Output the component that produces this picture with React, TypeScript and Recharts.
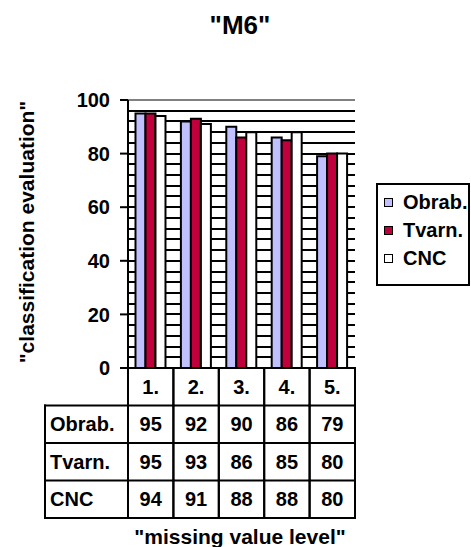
import React from 'react';
import { BarChart, Bar, XAxis, YAxis, CartesianGrid, Legend, ReferenceLine } from 'recharts';

// ---- data ----
const categories = ['1.', '2.', '3.', '4.', '5.'];
const obrabValues = [95, 92, 90, 86, 79];
const tvarnValues = [95, 93, 86, 85, 80];
const cncValues = [94, 91, 88, 88, 80];
const seriesLabels = ['Obrab.', 'Tvarn.', 'CNC'];
const yLabelTicks = [0, 20, 40, 60, 80, 100];
const gridTicks = [0, 4, 8, 12, 16, 20, 24, 28, 32, 36, 40, 44, 48, 52, 56, 60, 64, 68, 72, 76, 80, 84, 88, 92, 96, 100];

const title = '"M6"';
const yTitle = '"classification evaluation"';
const xTitle = '"missing value level"';

// ---- styles / layout ----
const COLORS = ['#C0C0FF', '#C0003C', '#FFFFFF'];
const FONT = "'Liberation Sans', Arial, Helvetica, sans-serif";

const W = 471;
const H = 547;
const MARGIN = { top: 100, right: 116, bottom: 29, left: 68 };
const YAXIS_W = 60;
const XAXIS_H = 150;
const AXIS_X = MARGIN.left + YAXIS_W;
const PLOT_W = W - AXIS_X - MARGIN.right;
const BAND = PLOT_W / categories.length;
const TABLE_TOP = H - MARGIN.bottom - XAXIS_H;
const ROW_H = 37.5;
const TABLE_LEFT = 45;

const data = categories.map((level, i) => ({
  level,
  obrab: obrabValues[i],
  tvarn: tvarnValues[i],
  cnc: cncValues[i],
}));
const seriesValues = [obrabValues, tvarnValues, cncValues];

const lineProps = { stroke: '#000', strokeWidth: 2, strokeLinecap: 'square' as const };
const textProps = { fontFamily: FONT, fontSize: 20, fontWeight: 700, fill: '#000' };

const YTick = (props: any) => {
  const { y, payload } = props;
  if (!yLabelTicks.includes(payload.value)) return <g />;
  return (
    <g>
      <line x1={AXIS_X - 8} x2={AXIS_X} y1={y} y2={y} stroke="#000" strokeWidth={2} />
      <text x={AXIS_X - 18} y={y} dy="0.355em" textAnchor="end" {...textProps}>
        {payload.value}
      </text>
    </g>
  );
};

const TableTick = (props: any) => {
  const { x, index, payload } = props;
  const left = x - BAND / 2;
  const right = x + BAND / 2;
  const bottom = TABLE_TOP + ROW_H * 4;
  return (
    <g>
      <line x1={left} y1={TABLE_TOP} x2={left} y2={bottom} {...lineProps} />
      <line x1={right} y1={TABLE_TOP} x2={right} y2={bottom} {...lineProps} />
      {[1, 2, 3, 4].map((r) => (
        <line key={r} x1={left} x2={right} y1={TABLE_TOP + ROW_H * r} y2={TABLE_TOP + ROW_H * r} {...lineProps} />
      ))}
      <text x={x} y={TABLE_TOP + ROW_H / 2} dy="0.355em" textAnchor="middle" {...textProps}>
        {payload.value}
      </text>
      {seriesValues.map((vals, s) => (
        <text key={s} x={x} y={TABLE_TOP + ROW_H * (s + 1.5)} dy="0.355em" textAnchor="middle" {...textProps}>
          {vals[index]}
        </text>
      ))}
      {index === 0 && (
        <g>
          <line x1={TABLE_LEFT} y1={TABLE_TOP + ROW_H} x2={TABLE_LEFT} y2={bottom} {...lineProps} />
          {[1, 2, 3, 4].map((r) => (
            <line key={r} x1={TABLE_LEFT} x2={left} y1={TABLE_TOP + ROW_H * r} y2={TABLE_TOP + ROW_H * r} {...lineProps} />
          ))}
          {seriesLabels.map((name, s) => (
            <text key={name} x={TABLE_LEFT + 5} y={TABLE_TOP + ROW_H * (s + 1.5)} dy="0.355em" textAnchor="start" {...textProps}>
              {name}
            </text>
          ))}
        </g>
      )}
    </g>
  );
};

const renderLegend = () => (
  <div
    style={{
      boxSizing: 'border-box',
      width: 94,
      height: 103,
      border: '2px solid #000',
      background: '#fff',
      paddingTop: 3,
      paddingLeft: 6,
      fontFamily: FONT,
    }}
  >
    {seriesLabels.map((name, i) => (
      <div key={name} style={{ display: 'flex', alignItems: 'center', height: 28, whiteSpace: 'nowrap' }}>
        <span
          style={{
            display: 'inline-block',
            boxSizing: 'border-box',
            width: 9,
            height: 9,
            border: '1.5px solid #000',
            background: COLORS[i],
            marginRight: 10,
          }}
        />
        <span style={{ fontSize: 20, fontWeight: 700, lineHeight: 1, color: '#000' }}>{name}</span>
      </div>
    ))}
  </div>
);

export default function App() {
  return (
    <div style={{ position: 'absolute', left: 0, top: 0, width: W, height: H, background: '#fff', overflow: 'hidden' }}>
      <BarChart width={W} height={H} data={data} margin={MARGIN} barCategoryGap="16.5%" barGap={0}>
        <CartesianGrid
          vertical={false}
          horizontalValues={gridTicks}
          syncWithTicks
          stroke="#000"
          strokeWidth={2}
          shapeRendering="crispEdges"
        />
        <XAxis
          dataKey="level"
          height={XAXIS_H}
          interval={0}
          axisLine={{ stroke: '#000', strokeWidth: 2 }}
          tickLine={false}
          tick={<TableTick />}
        />
        <YAxis
          width={YAXIS_W}
          domain={[0, 100]}
          ticks={gridTicks}
          interval={0}
          allowDataOverflow
          axisLine={{ stroke: '#000', strokeWidth: 2 }}
          tickLine={false}
          tick={<YTick />}
        />
        <YAxis
          yAxisId="r"
          orientation="right"
          width={0}
          domain={[0, 100]}
          tick={false}
          tickLine={false}
          axisLine={{ stroke: '#808080', strokeWidth: 2 }}
        />
        <ReferenceLine y={100} stroke="#808080" strokeWidth={2} />
        <Legend
          layout="vertical"
          align="center"
          verticalAlign="middle"
          content={renderLegend}
          wrapperStyle={{ left: 376, top: 183, width: 94, height: 103, right: 'auto', bottom: 'auto' }}
        />
        <Bar dataKey="obrab" name={seriesLabels[0]} fill={COLORS[0]} stroke="#000" strokeWidth={2} isAnimationActive={false} />
        <Bar dataKey="tvarn" name={seriesLabels[1]} fill={COLORS[1]} stroke="#000" strokeWidth={2} isAnimationActive={false} />
        <Bar dataKey="cnc" name={seriesLabels[2]} fill={COLORS[2]} stroke="#000" strokeWidth={2} isAnimationActive={false} />
      </BarChart>
      <div
        style={{
          position: 'absolute',
          left: 240,
          top: 12,
          transform: 'translateX(-50%)',
          fontFamily: FONT,
          fontSize: 26,
          fontWeight: 700,
          lineHeight: 1,
          whiteSpace: 'nowrap',
          color: '#000',
        }}
      >
        {title}
      </div>
      <div
        style={{
          position: 'absolute',
          left: 26,
          top: 232,
          transform: 'translate(-50%, -50%) rotate(-90deg)',
          fontFamily: FONT,
          fontSize: 21,
          fontWeight: 700,
          lineHeight: 1,
          whiteSpace: 'nowrap',
          color: '#000',
        }}
      >
        {yTitle}
      </div>
      <div
        style={{
          position: 'absolute',
          left: 240,
          top: 526,
          transform: 'translateX(-50%)',
          fontFamily: FONT,
          fontSize: 21,
          fontWeight: 700,
          lineHeight: 1,
          whiteSpace: 'nowrap',
          color: '#000',
        }}
      >
        {xTitle}
      </div>
    </div>
  );
}
